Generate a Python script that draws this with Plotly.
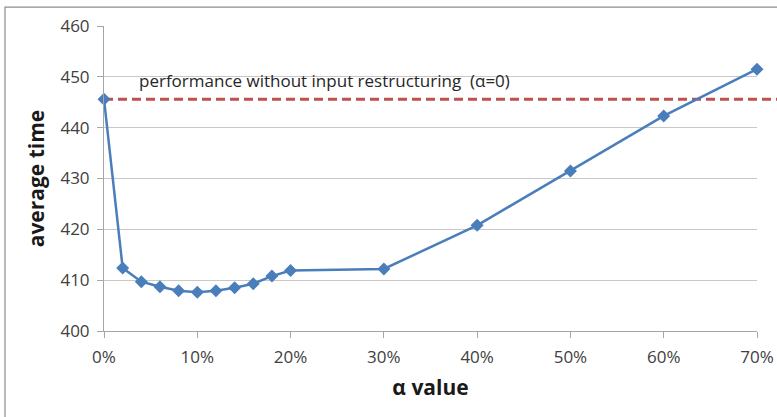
import plotly.graph_objects as go

# alpha values (fraction) and measured average time
alpha = [0.00, 0.02, 0.04, 0.06, 0.08, 0.10, 0.12, 0.14, 0.16, 0.18, 0.20, 0.30, 0.40, 0.50, 0.60, 0.70]
avg_time = [445.6, 412.4, 409.7, 408.7, 407.9, 407.6, 407.9, 408.5, 409.3, 410.8, 411.9, 412.2, 420.8, 431.5, 442.3, 451.5]
baseline = 445.6
baseline_label = "performance without input restructuring  (α=0)"

FONT = "Open Sans, Liberation Sans, sans-serif"

fig = go.Figure()
fig.add_trace(go.Scatter(
    x=alpha, y=avg_time,
    mode="lines+markers",
    line=dict(color="#4a7ebb", width=2.5),
    marker=dict(symbol="diamond", size=10, color="#4a7ebb"),
    showlegend=False,
    cliponaxis=False,
))

# dashed baseline runs past the plot area to the edge of the picture
fig.add_shape(type="line", xref="paper", yref="y", x0=0, x1=1.05,
              y0=baseline, y1=baseline,
              line=dict(color="#c0504d", width=3, dash="9px,5px"), layer="below")
fig.add_annotation(xref="x", yref="y", x=0.0355, y=baseline + 1.0,
                   text=baseline_label, showarrow=False, xanchor="left", yanchor="bottom",
                   font=dict(family=FONT, size=17, color="#262626"))

# chart border
fig.add_shape(type="rect", xref="paper", yref="paper", x0=-0.1516, x1=1.1, y0=-0.36, y1=1.062,
              line=dict(color="#8c8c8c", width=1.2), fillcolor="rgba(0,0,0,0)")

fig.update_layout(
    width=777, height=417,
    margin=dict(l=104, r=20, t=26, b=86),
    paper_bgcolor="white", plot_bgcolor="white",
    font=dict(family=FONT, color="#404040"),
)
fig.update_xaxes(
    range=[0, 0.70], tickvals=[0, 0.1, 0.2, 0.3, 0.4, 0.5, 0.6, 0.7], tickformat=".0%",
    showgrid=False, showline=True, linecolor="#a6a6a6", linewidth=1,
    ticks="outside", ticklen=6, tickcolor="#a6a6a6", ticklabelstandoff=5,
    tickfont=dict(size=17, color="#404040"),
    title=dict(text="<b>α value</b>", font=dict(size=21, color="#1a1a1a"), standoff=12),
    zeroline=False, automargin=False,
)
fig.update_yaxes(
    range=[400, 460], dtick=10,
    showgrid=True, gridcolor="#c8c8c8", gridwidth=1,
    showline=True, linecolor="#a6a6a6", linewidth=1,
    ticks="outside", ticklen=6, tickcolor="#a6a6a6", ticklabelstandoff=4,
    tickfont=dict(size=17, color="#404040"),
    title=dict(text="<b>average time</b>", font=dict(size=21, color="#1a1a1a"), standoff=10),
    zeroline=False, automargin=False,
)

fig.write_html("out.html", config={"displayModeBar": False},
               post_script="document.body.style.margin='0';")
